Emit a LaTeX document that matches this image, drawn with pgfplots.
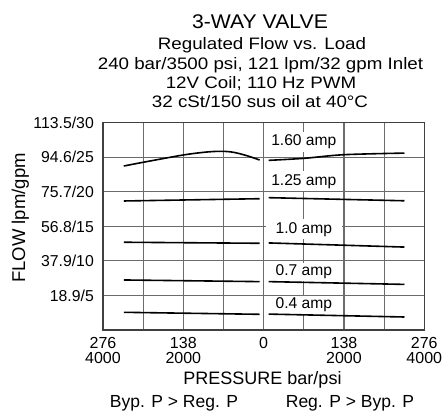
\documentclass[border=0pt]{standalone}
\usepackage{fontspec}
\setmainfont{Liberation Sans}
\newfontfamily\titlefont[FakeStretch=1.07]{Liberation Sans}
\newfontfamily\subfont[FakeStretch=1.13]{Liberation Sans}
\usepackage{pgfplots}
\pgfplotsset{compat=1.18}
\begin{document}
\begin{tikzpicture}
\useasboundingbox (0pt,0pt) rectangle (442pt,417pt);
% titles
\node[anchor=base,inner sep=0pt,font=\titlefont\fontsize{19.8}{20}\selectfont] at (260pt,388.7pt) {3-WAY VALVE};
\node[anchor=base,inner sep=0pt,font=\subfont\fontsize{16.6}{17}\selectfont] at (262pt,367pt) {Regulated Flow vs. Load};
\node[anchor=base,inner sep=0pt,font=\subfont\fontsize{16.6}{17}\selectfont] at (260.5pt,347.7pt) {240 bar/3500 psi, 121 lpm/32 gpm Inlet};
\node[anchor=base,inner sep=0pt,font=\subfont\fontsize{16.6}{17}\selectfont] at (261pt,328.7pt) {12V Coil; 110 Hz PWM};
\node[anchor=base,inner sep=0pt,font=\subfont\fontsize{16.6}{17}\selectfont] at (260pt,309.3pt) {32 cSt/150 sus oil at 40°C};
% axis labels
\node[anchor=base,inner sep=0pt,rotate=90,font=\fontsize{18.5}{19}\selectfont] at (25pt,199pt) {FLOW lpm/gpm};
\node[anchor=base,inner sep=0pt,font=\fontsize{18}{19}\selectfont] at (262.5pt,32pt) {PRESSURE bar/psi};
\node[anchor=base,inner sep=0pt,font=\fontsize{17.5}{18}\selectfont] at (174pt,9.7pt) {Byp. P > Reg. P};
\node[anchor=base,inner sep=0pt,font=\fontsize{17.5}{18}\selectfont] at (350pt,9.7pt) {Reg. P > Byp. P};
\begin{axis}[
  at={(103pt,87pt)}, anchor=south west,
  width=321.3pt, height=207.3pt, scale only axis,
  xmin=-4000, xmax=4000, ymin=0, ymax=30,
  xtick={-4000,-2000,0,2000,4000},
  xticklabels={{276\\4000},{138\\2000},{0},{138\\2000},{276\\4000}},
  minor xtick={-3000,-1000,1000,3000},
  ytick={0,5,10,15,20,25,30},
  yticklabels={{},{18.9/5},{37.9/10},{56.8/15},{75.7/20},{94.6/25},{113.5/30}},
  xticklabel style={font=\fontsize{16}{15.3}\selectfont, align=center, anchor=north, inner sep=0pt, yshift=-7.3pt},
  yticklabel style={font=\fontsize{15.8}{16}\selectfont, anchor=base east, inner sep=0pt, xshift=-9pt, yshift=-5.7pt},
  grid=both,
  major grid style={black!58, line width=1.1pt},
  minor grid style={black!58, line width=1.1pt},
  major tick length=0pt, minor tick length=0pt,
  axis line style={black!75, line width=1.1pt},
  /pgf/number format/assume math mode=true,
  clip=false,
]
% curve labels
\node[fill=white, inner xsep=0pt, inner ysep=3pt, minimum width=76pt, anchor=base, font=\fontsize{15.6}{16}\selectfont] at (axis cs:1000,26.67) {1.60 amp};
\node[fill=white, inner xsep=0pt, inner ysep=3pt, minimum width=76pt, anchor=base, font=\fontsize{15.6}{16}\selectfont] at (axis cs:1000,20.98) {1.25 amp};
\node[fill=white, inner xsep=0pt, inner ysep=3pt, minimum width=76pt, anchor=base, font=\fontsize{15.6}{16}\selectfont] at (axis cs:1000,14.0) {1.0 amp};
\node[fill=white, inner xsep=0pt, inner ysep=2pt, minimum width=76pt, anchor=base, font=\fontsize{15.6}{16}\selectfont] at (axis cs:1000,7.86) {0.7 amp};
\node[fill=white, inner xsep=0pt, inner ysep=2pt, minimum width=76pt, anchor=base, font=\fontsize{15.6}{16}\selectfont] at (axis cs:1000,3.04) {0.4 amp};
% 1.60 amp
\addplot[black, line width=1.6pt, smooth] coordinates {(-3483,23.73) (-3000,24.27) (-1998,25.33) (-1408,25.76) (-1035,25.86) (-746,25.71) (-413,25.22) (-100,24.6)};
\addplot[black, line width=1.6pt, smooth] coordinates {(124,24.55) (1000,24.84) (2000,25.37) (3507,25.6)};
% 1.25 amp
\addplot[black, line width=1.6pt] coordinates {(-3483,18.67) (-100,19.0)};
\addplot[black, line width=1.6pt] coordinates {(124,19.15) (3507,18.7)};
% 1.0 amp
\addplot[black, line width=1.6pt] coordinates {(-3483,12.7) (-100,12.55)};
\addplot[black, line width=1.6pt] coordinates {(124,12.6) (3507,12.0)};
% 0.7 amp
\addplot[black, line width=1.6pt] coordinates {(-3483,7.24) (-100,7.0)};
\addplot[black, line width=1.6pt] coordinates {(124,7.0) (3507,6.6)};
% 0.4 amp
\addplot[black, line width=1.6pt] coordinates {(-3483,2.56) (-100,2.27)};
\addplot[black, line width=1.6pt] coordinates {(124,2.3) (3507,1.88)};
\end{axis}
\end{tikzpicture}
\end{document}
